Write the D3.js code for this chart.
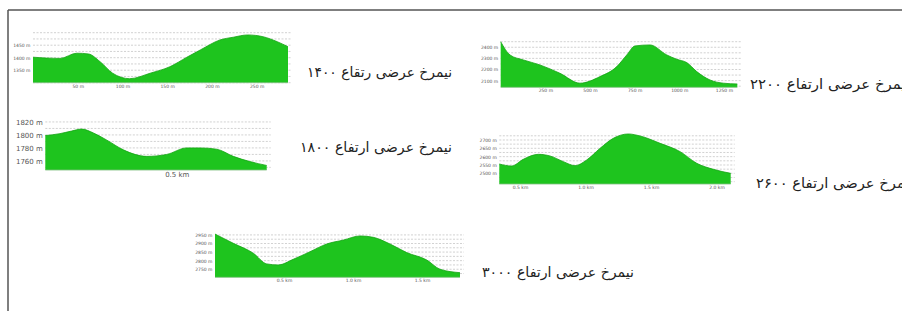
<!DOCTYPE html>
<html>
<head>
<meta charset="utf-8">
<script src="https://cdn.jsdelivr.net/npm/d3@7"></script>
<style>
  body { margin: 0; background: #fff; }
  text { font-family: "DejaVu Sans", sans-serif; }
</style>
</head>
<body>
<svg id="page" width="902" height="311"></svg>
<script>
// profile 1400 (distance in m)
const dist1400 = [0, 30, 49, 62, 75, 89, 108, 131, 153, 172, 187, 209, 224, 240, 257, 273, 285]
const elev1400 = [1402, 1397, 1418, 1415, 1384, 1338, 1316, 1338, 1364, 1402, 1431, 1471, 1482, 1491, 1484, 1464, 1444]
const yTicks1400 = [1350, 1400, 1450]
const xTicks1400 = [50, 100, 150, 200, 250]

// profile 2200 (distance in m)
const dist2200 = [0, 52, 127, 220, 332, 444, 556, 650, 706, 752, 836, 930, 986, 1042, 1098, 1172, 1247, 1325]
const elev2200 = [2450, 2331, 2286, 2241, 2166, 2077, 2136, 2226, 2331, 2412, 2421, 2331, 2292, 2262, 2181, 2106, 2077, 2070]
const yTicks2200 = [2100, 2200, 2300, 2400]
const xTicks2200 = [250, 500, 750, 1000, 1250]

// profile 1800 (distance in km)
const dist1800 = [0, 0.056, 0.100, 0.138, 0.183, 0.234, 0.297, 0.386, 0.462, 0.538, 0.588, 0.652, 0.715, 0.778, 0.842]
const elev1800 = [1799, 1802, 1806, 1809, 1803, 1792, 1777, 1767, 1770, 1780, 1780, 1778, 1767, 1759, 1753]
const yTicks1800 = [1760, 1780, 1800, 1820]
const xTicks1800 = [0.5]

// profile 2600 (distance in km)
const dist2600 = [0.342, 0.437, 0.525, 0.640, 0.729, 0.831, 0.920, 1.009, 1.111, 1.212, 1.327, 1.416, 1.569, 1.722, 1.849, 1.976, 2.108]
const elev2600 = [2556, 2544, 2584, 2614, 2604, 2570, 2546, 2580, 2650, 2710, 2736, 2724, 2680, 2630, 2560, 2524, 2500]
const yTicks2600 = [2500, 2550, 2600, 2650, 2700]
const xTicks2600 = [0.5, 1.0, 1.5, 2.0]

// profile 3000 (distance in km)
const dist3000 = [0, 0.133, 0.278, 0.375, 0.459, 0.567, 0.688, 0.809, 0.930, 1.051, 1.147, 1.268, 1.389, 1.534, 1.630, 1.775]
const elev3000 = [2955, 2901, 2843, 2781, 2775, 2808, 2852, 2897, 2920, 2944, 2936, 2897, 2847, 2804, 2750, 2730]
const yTicks3000 = [2750, 2800, 2850, 2900, 2950]
const xTicks3000 = [0.5, 1.0, 1.5]

const titles = [
  "نیمرخ عرضی رتقاع ۱۴۰۰",
  "نیمرخ عرضی ارتفاع ۲۲۰۰",
  "نیمرخ عرضی ارتفاع ۱۸۰۰",
  "نیمرخ عرضی ارتفاع ۲۶۰۰",
  "نیمرخ عرضی ارتفاع ۳۰۰۰"
]

const svg = d3.select("#page")

// frame
svg.append("line").attr("x1", 8).attr("x2", 902).attr("y1", 10).attr("y2", 10)
  .attr("stroke", "#555").attr("stroke-width", 1.5)
svg.append("line").attr("x1", 8).attr("x2", 8).attr("y1", 10).attr("y2", 311)
  .attr("stroke", "#555").attr("stroke-width", 1.5)

const panels = [
  { dist: dist1400, elev: elev1400, yTicks: yTicks1400, xTicks: xTicks1400,
    xDomain: [0, 285], yDomain: [1300, 1500], gridStep: 25,
    left: 33, right: 288, bottom: 82.7, top: 32.7, fs: 4.5, xUnit: " m", xFmt: d3.format("d"),
    title: titles[0], tx: 307, ty: 77, tw: 145 },
  { dist: dist2200, elev: elev2200, yTicks: yTicks2200, xTicks: xTicks2200,
    xDomain: [0, 1325], yDomain: [2040, 2450], gridStep: 50,
    left: 500.7, right: 737.3, bottom: 87.3, top: 41.7, fs: 4.5, xUnit: " m", xFmt: d3.format("d"),
    title: titles[1], tx: 750, ty: 89, tw: 160 },
  { dist: dist1800, elev: elev1800, yTicks: yTicks1800, xTicks: xTicks1800,
    xDomain: [0, 0.842], yDomain: [1746, 1825], gridStep: 10,
    left: 45.3, right: 266.7, bottom: 170, top: 118.7, fs: 7, xUnit: " km", xFmt: d3.format(".1f"),
    title: titles[2], tx: 300, ty: 152, tw: 152 },
  { dist: dist2600, elev: elev2600, yTicks: yTicks2600, xTicks: xTicks2600,
    xDomain: [0.342, 2.108], yDomain: [2436, 2740], gridStep: 25,
    left: 499.3, right: 730.7, bottom: 184, top: 133.3, fs: 4.5, xUnit: " km", xFmt: d3.format(".1f"),
    title: titles[3], tx: 756, ty: 188, tw: 158 },
  { dist: dist3000, elev: elev3000, yTicks: yTicks3000, xTicks: xTicks3000,
    xDomain: [0, 1.775], yDomain: [2703, 2960], gridStep: 25,
    left: 215, right: 460, bottom: 277.3, top: 233.2, fs: 4.5, xUnit: " km", xFmt: d3.format(".1f"),
    title: titles[4], tx: 482, ty: 277, tw: 152 }
]

panels.forEach(drawProfile)

function drawProfile(p) {
  const x = d3.scaleLinear().domain(p.xDomain).range([p.left, p.right])
  const y = d3.scaleLinear().domain(p.yDomain).range([p.bottom, p.top])
  const g = svg.append("g")

  // dotted grid at half steps
  const start = Math.ceil(p.yDomain[0] / p.gridStep) * p.gridStep
  const grid = d3.range(start, p.yDomain[1] + 0.001, p.gridStep)
  g.append("g").selectAll("line")
    .data(grid)
    .join("line")
      .attr("x1", p.left).attr("x2", p.right + 4)
      .attr("y1", d => y(d)).attr("y2", d => y(d))
      .attr("stroke", "#bdbdbd")
      .attr("stroke-width", 0.7)
      .attr("stroke-dasharray", "2,1.5")

  const pts = p.dist.map((d, i) => [d, p.elev[i]])
  const area = d3.area()
    .x(d => x(d[0]))
    .y0(p.bottom)
    .y1(d => y(d[1]))
    .curve(d3.curveMonotoneX)
  g.append("path")
    .datum(pts)
    .attr("d", area)
    .attr("fill", "#1ec41e")
  g.append("path")
    .datum(pts)
    .attr("d", area.lineY1())
    .attr("fill", "none")
    .attr("stroke", "#13a313")
    .attr("stroke-width", 0.8)

  g.append("line")
    .attr("x1", p.left).attr("x2", p.right)
    .attr("y1", p.bottom).attr("y2", p.bottom)
    .attr("stroke", "#7fbf7f").attr("stroke-width", 0.8)

  const yAxis = g.append("g")
    .attr("transform", `translate(${p.left - 1},0)`)
    .call(d3.axisLeft(y).tickValues(p.yTicks).tickSize(0).tickPadding(1.5).tickFormat(d => d + " m"))
  yAxis.select(".domain").remove()
  yAxis.selectAll("text").attr("font-size", p.fs).attr("fill", "#555").attr("font-family", "DejaVu Serif")

  const xAxis = g.append("g")
    .attr("transform", `translate(0,${p.bottom})`)
    .call(d3.axisBottom(x).tickValues(p.xTicks).tickSize(0).tickPadding(2).tickFormat(d => p.xFmt(d) + p.xUnit))
  xAxis.select(".domain").remove()
  xAxis.selectAll("text").attr("font-size", p.fs).attr("fill", "#555").attr("font-family", "DejaVu Serif")

  svg.append("text")
    .attr("x", p.tx).attr("y", p.ty)
    .attr("font-size", 14)
    .attr("fill", "#222")
    .attr("textLength", p.tw)
    .attr("lengthAdjust", "spacingAndGlyphs")
    .text(p.title)
}
</script>
</body>
</html>
